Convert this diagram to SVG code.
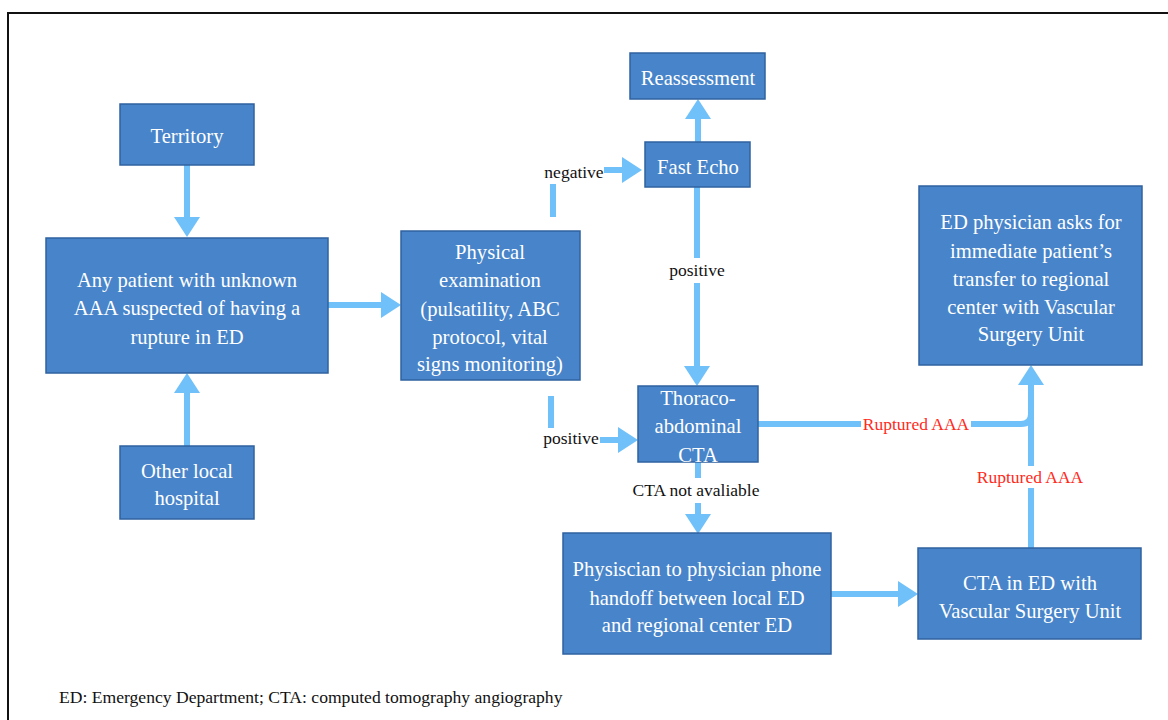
<svg xmlns="http://www.w3.org/2000/svg" width="1168" height="720" viewBox="0 0 1168 720">
<defs>
<style>
.box{fill:#4784ca;stroke:#2f62a0;stroke-width:1.5}
.bt{font-family:"Liberation Serif","Times New Roman",serif;font-size:20.6px;fill:#ffffff;text-anchor:middle}
.lbl{font-family:"Liberation Serif","Times New Roman",serif;font-size:17.5px;fill:#111111;text-anchor:middle}
.red{fill:#ff2b1c}
.ln{fill:none;stroke:#70c0fa;stroke-width:6}
.foot{font-family:"Liberation Serif","Times New Roman",serif;font-size:17.6px;fill:#111111}
</style>
<marker id="ah" viewBox="0 0 20 26" refX="0" refY="13" markerWidth="20" markerHeight="26" markerUnits="userSpaceOnUse" orient="auto">
<path d="M0,0 L20,13 L0,26 z" fill="#70c0fa"/>
</marker>
</defs>
<rect x="0" y="0" width="1168" height="720" fill="#ffffff"/>
<rect x="8" y="13" width="1175" height="720" fill="none" stroke="#111111" stroke-width="2"/>

<g id="connectors">
<path class="ln" d="M187,165 V217" marker-end="url(#ah)"/>
<path class="ln" d="M187,446 V393" marker-end="url(#ah)"/>
<path class="ln" d="M328,305 H381" marker-end="url(#ah)"/>
<path class="ln" d="M553,184 V217"/>
<path class="ln" d="M604,170 H622" marker-end="url(#ah)"/>
<path class="ln" d="M698,142 V119" marker-end="url(#ah)"/>
<path class="ln" d="M697,187 V258"/>
<path class="ln" d="M697,283 V366" marker-end="url(#ah)"/>
<path class="ln" d="M551,396 V428"/>
<path class="ln" d="M600,440 H618" marker-end="url(#ah)"/>
<path class="ln" d="M698,462 V478"/>
<path class="ln" d="M698,503 V514" marker-end="url(#ah)"/>
<path class="ln" d="M831,594 H898" marker-end="url(#ah)"/>
<path class="ln" d="M758,424 H1021 Q1031,424 1031,414"/>
<path class="ln" d="M1031,548 V385" marker-end="url(#ah)"/>
<text class="lbl" x="574" y="178">negative</text>
<rect x="668" y="259" width="58" height="22" fill="#ffffff"/>
<text class="lbl" x="697" y="276">positive</text>
<text class="lbl" x="571" y="444">positive</text>
<rect x="630" y="479" width="134" height="22" fill="#ffffff"/>
<text class="lbl" x="696" y="496">CTA not avaliable</text>
<rect x="861" y="413" width="110" height="22" fill="#ffffff"/>
<text class="lbl red" x="916" y="430">Ruptured AAA</text>
<rect x="975" y="466" width="110" height="22" fill="#ffffff"/>
<text class="lbl red" x="1030" y="483">Ruptured AAA</text>
</g>

<g id="territory">
<rect class="box" x="120" y="104" width="134" height="61"/>
<text class="bt" x="187" y="143">Territory</text>
</g>
<g id="patient">
<rect class="box" x="46" y="238" width="282" height="135"/>
<text class="bt" x="187" y="287">Any patient with unknown</text>
<text class="bt" x="187" y="315">AAA suspected of having a</text>
<text class="bt" x="187" y="344">rupture in ED</text>
</g>
<g id="other-hospital">
<rect class="box" x="120" y="446" width="134" height="73"/>
<text class="bt" x="187" y="478">Other local</text>
<text class="bt" x="187" y="505">hospital</text>
</g>
<g id="physical">
<rect class="box" x="401" y="231" width="179" height="149"/>
<text class="bt" x="490" y="259">Physical</text>
<text class="bt" x="490" y="287">examination</text>
<text class="bt" x="490" y="316">(pulsatility, ABC</text>
<text class="bt" x="490" y="344">protocol, vital</text>
<text class="bt" x="490" y="371">signs monitoring)</text>
</g>
<g id="reassessment">
<rect class="box" x="630" y="53" width="135" height="46"/>
<text class="bt" x="698" y="85">Reassessment</text>
</g>
<g id="fast-echo">
<rect class="box" x="645" y="142" width="105" height="45"/>
<text class="bt" x="698" y="174">Fast Echo</text>
</g>
<g id="thoraco">
<rect class="box" x="638" y="386" width="120" height="76"/>
<text class="bt" x="698" y="405">Thoraco-</text>
<text class="bt" x="698" y="433">abdominal</text>
<text class="bt" x="698" y="462">CTA</text>
</g>
<g id="ed-physician">
<rect class="box" x="919" y="186" width="223" height="179"/>
<text class="bt" x="1031" y="229">ED physician asks for</text>
<text class="bt" x="1031" y="258">immediate patient’s</text>
<text class="bt" x="1031" y="286">transfer to regional</text>
<text class="bt" x="1031" y="314">center with Vascular</text>
<text class="bt" x="1031" y="341">Surgery Unit</text>
</g>
<g id="phone-handoff">
<rect class="box" x="563" y="533" width="268" height="121"/>
<text class="bt" x="697" y="576">Physiscian to physician phone</text>
<text class="bt" x="697" y="605">handoff between local ED</text>
<text class="bt" x="697" y="632">and regional center ED</text>
</g>
<g id="cta-ed">
<rect class="box" x="918" y="548" width="223" height="91"/>
<text class="bt" x="1030" y="590">CTA in ED with</text>
<text class="bt" x="1030" y="618">Vascular Surgery Unit</text>
</g>
<text class="foot" x="59" y="703">ED: Emergency Department; CTA: computed tomography angiography</text>
</svg>
